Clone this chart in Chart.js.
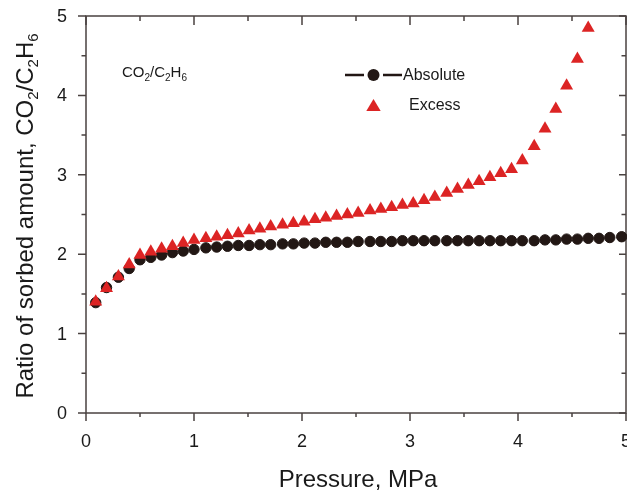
<!DOCTYPE html>
<html><head><meta charset="utf-8">
<script src="https://cdn.jsdelivr.net/npm/chart.js@4.4.0/dist/chart.umd.min.js"></script>
<style>html,body{margin:0;padding:0;background:#fff;}#wrap{width:627px;height:490px;}</style>
</head><body><div id="wrap"><canvas id="c" width="627" height="490"></canvas></div>
<script>
// ---- data ----
const pressure = [0.09,0.19,0.30,0.40,0.50,0.60,0.70,0.80,0.90,1.00,
  1.11,1.21,1.31,1.41,1.51,1.61,1.71,1.82,1.92,2.02,
  2.12,2.22,2.32,2.42,2.52,2.63,2.73,2.83,2.93,3.03,
  3.13,3.23,3.34,3.44,3.54,3.64,3.74,3.84,3.94,4.04,
  4.15,4.25,4.35,4.45,4.55,4.65,4.75,4.85,4.96];
const absoluteRatio = [1.39,1.58,1.71,1.82,1.93,1.96,1.99,2.02,2.04,2.06,
  2.08,2.09,2.10,2.11,2.11,2.12,2.12,2.13,2.13,2.14,
  2.14,2.15,2.15,2.15,2.16,2.16,2.16,2.16,2.17,2.17,
  2.17,2.17,2.17,2.17,2.17,2.17,2.17,2.17,2.17,2.17,
  2.17,2.18,2.18,2.19,2.19,2.20,2.20,2.21,2.22];
const excessRatio = [1.40,1.57,1.72,1.87,1.99,2.03,2.07,2.10,2.14,2.18,
  2.20,2.22,2.24,2.26,2.30,2.32,2.35,2.37,2.39,2.41,
  2.44,2.46,2.48,2.50,2.52,2.55,2.57,2.59,2.62,2.64,
  2.68,2.72,2.77,2.82,2.87,2.92,2.97,3.02,3.07,3.18,
  3.36,3.58,3.83,4.12,4.46,4.85];
const xTicks = [0,1,2,3,4,5];
const xTickLabels = ['0','1','2','3','4','5'];
const xMinorTicks = [0.5,1.5,2.5,3.5,4.5];
const yTicks = [0,1,2,3,4,5];
const yTickLabels = ['0','1','2','3','4','5'];
const yMinorTicks = [0.5,1.5,2.5,3.5,4.5];
const seriesNames = ['Absolute','Excess'];
const xTitle = 'Pressure, MPa';
const yTitleParts = [['Ratio of sorbed amount, CO',0],['2',1],['/C',0],['2',1],['H',0],['6',1]];
const notePartsTxt = [['CO',0],['2',1],['/C',0],['2',1],['H',0],['6',1]];

const FONT = '"Liberation Sans", Arial, Helvetica, sans-serif';
const AXIS = '#4a4240';
const BLACK = '#221714';
const RED = '#dc2424';

function drawRich(ctx, parts, x, y, size, subSize, subDy, measureOnly){
  let cx = x;
  for (const [t, sub] of parts){
    ctx.font = (sub ? subSize : size) + 'px ' + FONT;
    if (!measureOnly) ctx.fillText(t, cx, y + (sub ? subDy : 0));
    cx += ctx.measureText(t).width;
  }
  return cx - x;
}

const decor = {
  id: 'decor',
  beforeDatasetsDraw(chart){
    const ctx = chart.ctx, a = chart.chartArea, xs = chart.scales.x, ys = chart.scales.y;
    ctx.save();
    ctx.strokeStyle = AXIS; ctx.lineWidth = 1.5; ctx.lineCap = 'butt';
    ctx.strokeRect(a.left, a.top, a.right - a.left, a.bottom - a.top);
    ctx.beginPath();
    const tx = (v, lenOut, lenIn) => {
      const p = xs.getPixelForValue(v);
      ctx.moveTo(p, a.bottom); ctx.lineTo(p, a.bottom + lenOut);
      ctx.moveTo(p, a.top); ctx.lineTo(p, a.top + lenIn);
    };
    const ty = (v, lenOut, lenIn) => {
      const p = ys.getPixelForValue(v);
      ctx.moveTo(a.left, p); ctx.lineTo(a.left - lenOut, p);
      ctx.moveTo(a.right, p); ctx.lineTo(a.right - lenIn, p);
    };
    xTicks.forEach(v => tx(v, 8, 9));
    xMinorTicks.forEach(v => tx(v, 4, 5));
    yTicks.forEach(v => ty(v, 8, 7));
    yMinorTicks.forEach(v => ty(v, 4.5, 4.5));
    ctx.stroke();

    ctx.fillStyle = '#1a1a1a';
    ctx.font = '18px ' + FONT;
    ctx.textAlign = 'center'; ctx.textBaseline = 'alphabetic';
    xTicks.forEach((v, i) => ctx.fillText(xTickLabels[i], xs.getPixelForValue(v), 447));
    ctx.textAlign = 'right'; ctx.textBaseline = 'middle';
    yTicks.forEach((v, i) => ctx.fillText(yTickLabels[i], 67, ys.getPixelForValue(v) + 1));

    ctx.textAlign = 'center'; ctx.textBaseline = 'alphabetic';
    ctx.font = '24px ' + FONT;
    ctx.fillText(xTitle, 358, 487);

    // y title rotated
    ctx.save();
    ctx.translate(33, 216);
    ctx.rotate(-Math.PI / 2);
    ctx.textAlign = 'left';
    const w = drawRich(ctx, yTitleParts, 0, 0, 24, 15, 5, true);
    drawRich(ctx, yTitleParts, -w / 2, 0, 24, 15, 5, false);
    ctx.restore();

    // note
    ctx.textAlign = 'left';
    drawRich(ctx, notePartsTxt, 122, 77, 15, 10, 4, false);

    // legend
    ctx.strokeStyle = BLACK; ctx.lineWidth = 2.5;
    ctx.beginPath();
    ctx.moveTo(345, 75); ctx.lineTo(364, 75);
    ctx.moveTo(383, 75); ctx.lineTo(402, 75);
    ctx.stroke();
    ctx.fillStyle = BLACK;
    ctx.beginPath(); ctx.arc(373.5, 75, 6, 0, Math.PI * 2); ctx.fill();
    ctx.fillStyle = RED;
    ctx.beginPath(); ctx.moveTo(373.5, 99); ctx.lineTo(380.7, 111); ctx.lineTo(366.3, 111); ctx.closePath(); ctx.fill();
    ctx.fillStyle = '#1a1a1a';
    ctx.font = '16px ' + FONT;
    ctx.fillText(seriesNames[0], 403, 80);
    ctx.fillText(seriesNames[1], 409, 110);
    ctx.restore();
  }
};

new Chart(document.getElementById('c'), {
  type: 'scatter',
  data: {
    datasets: [
      {
        label: seriesNames[0],
        data: pressure.map((p, i) => ({x: p, y: absoluteRatio[i]})),
        showLine: false, borderColor: BLACK, borderWidth: 2,
        pointStyle: 'circle', pointRadius: 5.2, pointBorderWidth: 1,
        pointBackgroundColor: BLACK, pointBorderColor: BLACK,
        order: 1, clip: false
      },
      {
        label: seriesNames[1],
        data: excessRatio.map((v, i) => ({x: pressure[i], y: v})),
        showLine: false,
        pointStyle: 'triangle', pointRadius: 7.5, pointBorderWidth: 0,
        pointBackgroundColor: RED, pointBorderColor: RED,
        order: 0, clip: false
      }
    ]
  },
  options: {
    responsive: false, animation: false, devicePixelRatio: 1,
    layout: {autoPadding: false, padding: {left: 86, top: 16, right: 1, bottom: 77}},
    plugins: {legend: {display: false}, tooltip: {enabled: false}},
    scales: {
      x: {type: 'linear', min: 0, max: 5, display: false},
      y: {type: 'linear', min: 0, max: 5, display: false}
    }
  },
  plugins: [decor]
});
</script>
</body></html>
